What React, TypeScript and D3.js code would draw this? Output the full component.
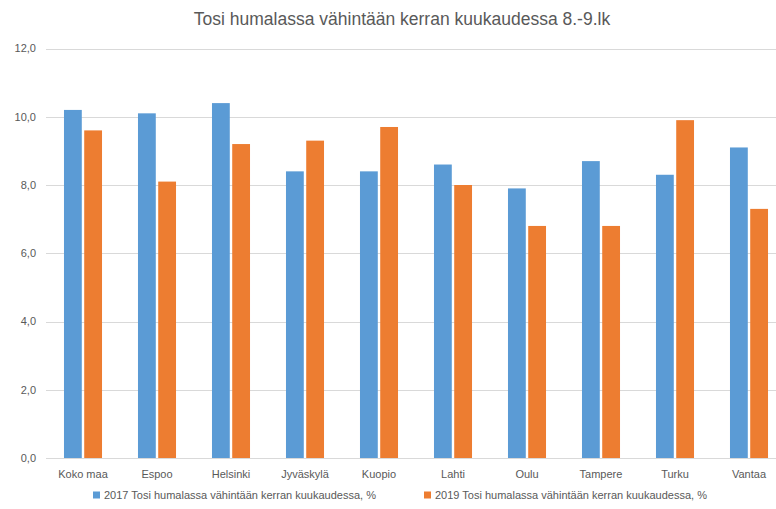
import React, { useEffect, useRef } from 'react';
import * as d3 from 'd3';

const title = 'Tosi humalassa vähintään kerran kuukaudessa 8.-9.lk';
const cities = ['Koko maa', 'Espoo', 'Helsinki', 'Jyväskylä', 'Kuopio', 'Lahti', 'Oulu', 'Tampere', 'Turku', 'Vantaa'];
const values2017 = [10.2, 10.1, 10.4, 8.4, 8.4, 8.6, 7.9, 8.7, 8.3, 9.1];
const values2019 = [9.6, 8.1, 9.2, 9.3, 9.7, 8.0, 6.8, 6.8, 9.9, 7.3];
const seriesNames = [
  '2017 Tosi humalassa vähintään kerran kuukaudessa, %',
  '2019 Tosi humalassa vähintään kerran kuukaudessa, %',
];
const yTicks = [0, 2, 4, 6, 8, 10, 12];

const colors = ['#5B9BD5', '#ED7D31'];
const font = '"Liberation Sans", Arial, sans-serif';

const App: React.FC = () => {
  const svgRef = useRef<SVGSVGElement>(null);

  useEffect(() => {
    if (!svgRef.current) return;
    const svg = d3.select(svgRef.current);
    svg.selectAll('*').remove();

    const width = 776;
    const height = 509;

    svg.append('rect').attr('width', width).attr('height', height).attr('fill', '#fff');

    const x = d3.scaleBand<string>()
      .domain(cities)
      .range([46, 786])
      .paddingInner(0.486)
      .paddingOuter(0.243);

    const xs = d3.scaleBand<number>()
      .domain([0, 1])
      .range([0, x.bandwidth()])
      .paddingInner(0.12);

    const y = d3.scaleLinear().domain([0, 12]).range([458, 48.5]);

    // gridlines
    svg.append('g')
      .selectAll('line')
      .data(yTicks)
      .join('line')
      .attr('x1', 46)
      .attr('x2', 786)
      .attr('y1', d => Math.round(y(d)) + 0.5)
      .attr('y2', d => Math.round(y(d)) + 0.5)
      .attr('stroke', '#D9D9D9')
      .attr('stroke-width', 1);

    // y labels
    svg.append('g')
      .selectAll('text')
      .data(yTicks)
      .join('text')
      .attr('x', 36)
      .attr('y', d => y(d))
      .attr('dy', '0.35em')
      .attr('text-anchor', 'end')
      .attr('font-family', font)
      .attr('font-size', 11)
      .attr('fill', '#595959')
      .text(d => d.toFixed(1).replace('.', ','));

    const series = [values2017, values2019];
    series.forEach((vals, si) => {
      svg.append('g')
        .selectAll('rect')
        .data(vals)
        .join('rect')
        .attr('x', (_, i) => (x(cities[i]) as number) + (xs(si) as number))
        .attr('y', d => y(d))
        .attr('width', xs.bandwidth())
        .attr('height', d => y(0) - y(d))
        .attr('fill', colors[si]);
    });

    // category labels
    svg.append('g')
      .selectAll('text')
      .data(cities)
      .join('text')
      .attr('x', d => (x(d) as number) + x.bandwidth() / 2)
      .attr('y', 478)
      .attr('text-anchor', 'middle')
      .attr('font-family', font)
      .attr('font-size', 11)
      .attr('fill', '#595959')
      .text(d => d);

    // title
    svg.append('text')
      .attr('x', 402)
      .attr('y', 25)
      .attr('text-anchor', 'middle')
      .attr('font-family', font)
      .attr('font-size', 17.5)
      .attr('fill', '#595959')
      .text(title);

    // legend
    const legendX = [93, 424];
    const legend = svg.append('g')
      .selectAll('g')
      .data(seriesNames)
      .join('g')
      .attr('transform', (_, i) => `translate(${legendX[i]},499)`);
    legend.append('rect')
      .attr('x', 0)
      .attr('y', -7.5)
      .attr('width', 7)
      .attr('height', 7)
      .attr('fill', (_, i) => colors[i]);
    legend.append('text')
      .attr('x', 11)
      .attr('y', 0)
      .attr('font-family', font)
      .attr('font-size', 11)
      .attr('fill', '#595959')
      .text(d => d);
  }, []);

  return (
    <svg
      ref={svgRef}
      width={776}
      height={509}
      style={{ position: 'absolute', left: 0, top: 0, display: 'block' }}
    />
  );
};

export default App;
